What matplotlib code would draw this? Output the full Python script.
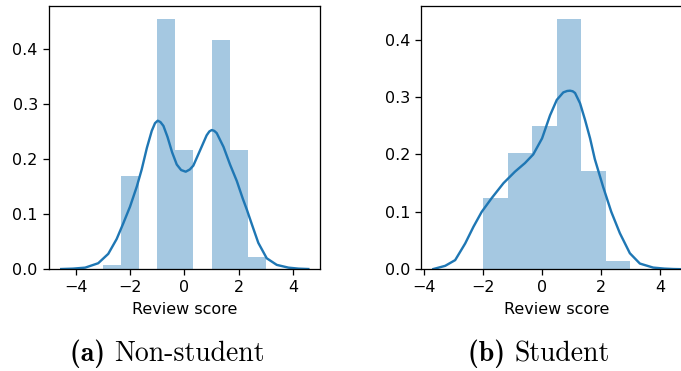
import matplotlib
matplotlib.use("Agg")
import matplotlib.pyplot as plt
import numpy as np

# ---- data ----
left_edges = [-3.0, -2.333, -1.667, -1.0, -0.333, 0.333, 1.0, 1.667, 2.333, 3.0]
left_heights = [0.008, 0.170, 0.0, 0.454, 0.216, 0.0, 0.416, 0.216, 0.0225]

right_edges = [-2.0, -1.167, -0.333, 0.5, 1.333, 2.167, 3.0]
right_heights = [0.124, 0.203, 0.250, 0.436, 0.171, 0.0145]

left_kde_x = [-4.53, -4.1, -3.65, -3.17, -2.80, -2.49, -2.25, -2.00, -1.75, -1.57, -1.38,
              -1.20, -1.08, -0.98, -0.88, -0.77, -0.62, -0.45, -0.28, -0.12, 0.05, 0.20,
              0.33, 0.58, 0.82, 0.92, 1.01, 1.10, 1.19, 1.44, 1.68, 1.93, 2.15, 2.30, 2.48,
              2.72, 3.03, 3.40, 3.83, 4.2, 4.56]
left_kde_y = [0.0005, 0.0012, 0.003, 0.011, 0.028, 0.055, 0.083, 0.1135, 0.150, 0.181, 0.220,
              0.251, 0.265, 0.2695, 0.267, 0.260, 0.240, 0.212, 0.190, 0.180, 0.177, 0.181,
              0.188, 0.216, 0.243, 0.250, 0.2526, 0.251, 0.247, 0.222, 0.190, 0.160, 0.128,
              0.108, 0.082, 0.048, 0.020, 0.008, 0.003, 0.0012, 0.0005]

right_kde_x = [-3.69, -3.29, -2.95, -2.61, -2.33, -2.05, -1.71, -1.31, -0.92, -0.58, -0.30,
               0.0, 0.27, 0.50, 0.72, 0.85, 0.95, 1.04, 1.12, 1.29, 1.46, 1.63, 1.79, 2.07,
               2.35, 2.64, 2.98, 3.32, 3.77, 4.15, 4.45, 4.72]
right_kde_y = [0.0005, 0.006, 0.016, 0.045, 0.074, 0.100, 0.124, 0.150, 0.170, 0.185, 0.200,
               0.228, 0.268, 0.295, 0.308, 0.3105, 0.311, 0.310, 0.307, 0.289, 0.260, 0.228,
               0.192, 0.144, 0.100, 0.063, 0.028, 0.010, 0.003, 0.0012, 0.0005, 0.0002]

y_ticks = [0.0, 0.1, 0.2, 0.3, 0.4]
x_ticks = [-4, -2, 0, 2, 4]
xlabel = "Review score"
captions = [("(a)", "Non-student"), ("(b)", "Student")]

color = "#1f77b4"
S = 1.15  # overall scale of the reference relative to matplotlib defaults

fig = plt.figure(figsize=(6.81, 3.71), dpi=100)

ax1 = fig.add_axes([49 / 681, (371 - 269.3) / 371, 271 / 681, 263.6 / 371])
ax2 = fig.add_axes([421.3 / 681, (371 - 269.3) / 371, 270.7 / 681, 263.6 / 371])


def draw(ax, edges, heights, kx, ky, xlim, ylim):
    edges = np.asarray(edges)
    widths = np.diff(edges)
    ax.bar(edges[:-1], heights, width=widths, align="edge", color=color,
           alpha=0.4, linewidth=0)
    ax.plot(kx, ky, color=color, lw=1.5 * S, solid_joinstyle="round")
    ax.set_xlim(*xlim)
    ax.set_ylim(*ylim)
    ax.set_xticks(x_ticks)
    ax.set_yticks(y_ticks)
    ax.tick_params(labelsize=10 * S, length=3.5 * S, width=0.8 * S, pad=3.5 * S)
    for sp in ax.spines.values():
        sp.set_linewidth(0.8 * S)
    ax.set_xlabel(xlabel, fontsize=10 * S, labelpad=4 * S)


draw(ax1, left_edges, left_heights, left_kde_x, left_kde_y, (-4.98, 4.99), (0, 0.478))
draw(ax2, right_edges, right_heights, right_kde_x, right_kde_y, (-4.10, 5.09), (0, 0.459))
ax2.spines["right"].set_visible(False)

# captions
cap_y = (371 - 354) / 371
for (lab, txt), x0 in zip(captions, [70 / 681, 468 / 681]):
    t = fig.text(x0, cap_y, lab + " ", family="cmb10", fontsize=20, va="center", ha="left")
    fig.canvas.draw()
    bb = t.get_window_extent()
    fig.text(bb.x1 / fig.bbox.width, cap_y, txt, family="cmr10", fontsize=20,
             va="center", ha="left")

fig.savefig("out.png", dpi=100)
